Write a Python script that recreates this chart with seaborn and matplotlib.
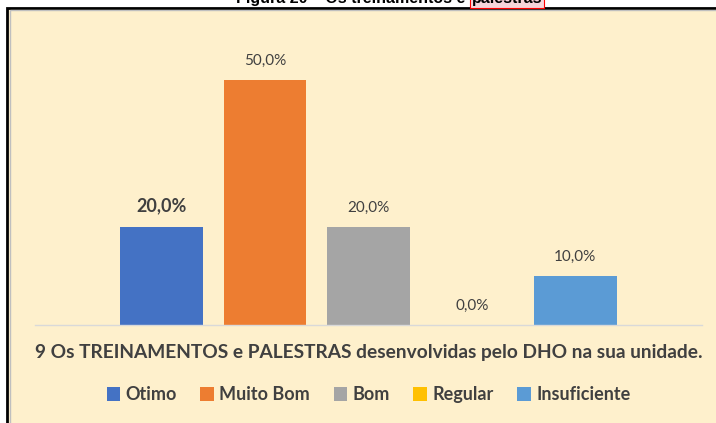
import matplotlib
matplotlib.use('Agg')
import matplotlib.pyplot as plt
from matplotlib.patches import Rectangle
import seaborn as sns
import pandas as pd

# Chart data
question = '9 Os TREINAMENTOS e PALESTRAS desenvolvidas pelo DHO na sua unidade.'
answers = ['Otimo', 'Muito Bom', 'Bom', 'Regular', 'Insuficiente']
shares = [0.20, 0.50, 0.20, 0.00, 0.10]
colors = ['#4472C4', '#ED7D31', '#A5A5A5', '#FFC000', '#5B9BD5']

df = pd.DataFrame({'pergunta': [question] * len(answers), 'resposta': answers, 'valor': shares})

sns.set_style('white')
plt.rcParams['font.family'] = ['Lato', 'DejaVu Sans']

W, H = 716, 423
fig = plt.figure(figsize=(W / 100, H / 100), dpi=100)
fig.patch.set_facecolor('white')

# cream chart area with black frame (behind the axes)
fig.add_artist(Rectangle((7 / W, -0.05), 1.0, (H - 8) / H + 0.05, transform=fig.transFigure,
                         facecolor='#FEF0CC', edgecolor='black', linewidth=2, zorder=-2))
fig.add_artist(Rectangle((9.5 / W, -0.05), 1.0, (H - 10) / H + 0.05, transform=fig.transFigure,
                         facecolor='none', edgecolor='#BFBFBF', linewidth=1, zorder=-1))

# clipped caption above the chart
fig.text(470 / W, 1 - 3 / H, 'Figura 20 – Os treinamentos e ', ha='right', va='baseline',
         fontsize=11.5, fontweight='bold', family='Liberation Sans', color='black')
fig.text(472 / W, 1 - 3 / H, 'palestras', ha='left', va='baseline',
         fontsize=11.5, fontweight='bold', family='Liberation Sans', color='black',
         bbox=dict(boxstyle='square,pad=0.1', facecolor='#F6D5DA', edgecolor='red', linewidth=0.8))

ax = fig.add_axes([35 / W, 98 / H, 667 / W, 294 / H])
ax.set_facecolor('none')

sns.barplot(data=df, x='pergunta', y='valor', hue='resposta', hue_order=answers,
            palette=colors, saturation=1, width=0.775, gap=0.2, linewidth=0,
            edgecolor='none', ax=ax, legend=True)

ax.set_xlim(-0.5, 0.5)
ax.set_ylim(0, 0.6)
ax.set_yticks([])
ax.set_xlabel('')
ax.set_ylabel('')
for s in ['top', 'right', 'left']:
    ax.spines[s].set_visible(False)
ax.spines['bottom'].set_color('#D9D9D9')
ax.spines['bottom'].set_linewidth(1)

ax.set_xticks([-0.5, 0.5], minor=True)
ax.tick_params(axis='x', which='minor', length=6, color='#D9D9D9', width=1, direction='out')
ax.tick_params(axis='x', which='major', length=0, pad=14)
for lbl in ax.get_xticklabels():
    lbl.set_fontsize(13.8)
    lbl.set_fontweight('bold')
    lbl.set_color('#404040')

# data labels
for i, cont in enumerate(ax.containers):
    txt = [f'{shares[i] * 100:.1f}%'.replace('.', ',')]
    labs = ax.bar_label(cont, labels=txt, padding=9, fontsize=11, color='#404040')
    if i == 0:
        for t in labs:
            t.set_fontweight('bold')
            t.set_fontsize(13)

leg = ax.legend(loc='center', bbox_to_anchor=(0.5, -0.238), ncol=5, frameon=False,
                handlelength=0.75, handleheight=0.8, handletextpad=0.3, columnspacing=1.3,
                prop={'weight': 'bold', 'size': 13})
for t in leg.get_texts():
    t.set_color('#404040')

fig.savefig('out.png', dpi=100, facecolor=fig.get_facecolor())
